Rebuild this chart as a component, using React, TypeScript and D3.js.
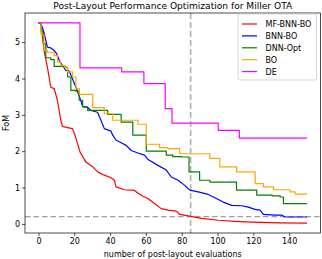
import React, { useEffect, useRef } from 'react';
import * as d3 from 'd3';

// best-so-far FoM, [evaluation, FoM]
const mfBnnBo: [number, number][] = [
  [0, 5.53], [1.5, 5.5], [3.1, 4.77], [5, 4.31], [6.9, 3.76], [8.8, 3.72], [10.6, 3.4], [12.5, 2.85],
  [13.4, 2.68], [16.2, 2.65], [19, 2.62], [20.4, 2.44], [23.2, 1.98], [26.5, 1.7], [30.3, 1.57],
  [33.1, 1.43], [36.8, 1.34], [40.6, 1.27], [42.4, 1.2], [43.4, 1.02], [48, 0.94], [53.6, 0.92],
  [55.5, 0.85], [58.3, 0.76], [61.1, 0.7], [64.8, 0.56], [68.6, 0.42], [72.3, 0.38], [77, 0.35],
  [78.9, 0.26], [83.6, 0.22], [91, 0.15], [100.4, 0.1], [109.8, 0.07], [119, 0.05], [135, 0.03], [150, 0.02],
];
const bnnBo: [number, number][] = [
  [0, 5.53], [1.5, 5.5], [3.1, 5.27], [5, 4.86], [6.9, 4.84], [8.8, 4.77], [10.3, 4.67], [11.6, 4.5],
  [15.3, 4.22], [17.2, 4.2], [19, 3.99], [20.9, 3.76], [23.3, 3.44], [24.7, 3.23], [27.5, 3.2],
  [29.3, 3.12], [33, 3.07], [34.9, 2.85], [36.8, 2.62], [40.5, 2.55], [41.5, 2.44], [43.4, 2.3],
  [46.2, 2.23], [49, 2.16], [51.8, 2.02], [55.5, 1.95], [59.2, 1.89], [61, 1.78], [66.7, 1.61],
  [71.4, 1.48], [74.2, 1.29], [78, 1.2], [81.7, 1.06], [84.5, 0.93], [89.2, 0.88], [94.8, 0.81],
  [98.5, 0.72], [103.2, 0.6], [107.9, 0.51], [113.5, 0.5], [117.2, 0.46], [121, 0.4], [123.8, 0.38],
  [125.6, 0.26], [132, 0.24], [136, 0.24], [137.7, 0.19], [150, 0.19],
];
// step series: value holds from x onward
const dnnOpt: [number, number][] = [
  [0, 5.53], [1.5, 5.3], [2.8, 4.95], [4.1, 4.57], [6.9, 4.52], [8.8, 4.33], [15.3, 4.3], [16.3, 4.04],
  [18.1, 3.67], [20.9, 3.65], [22.8, 3.4], [24.7, 3.22], [27.5, 3.12], [38.7, 3.01], [46.2, 2.8],
  [52.7, 2.44], [60.2, 2.0], [71.4, 1.89], [75, 1.85], [80, 1.84], [84.1, 1.43], [90, 1.2],
  [95.7, 1.15], [110.6, 0.93], [121.9, 0.79], [130.5, 0.77], [135, 0.74], [136.8, 0.56], [150, 0.56],
];
const bo: [number, number][] = [
  [0, 5.53], [1.5, 5.2], [3.1, 4.77], [5, 4.72], [8.8, 4.63], [10.6, 4.45], [12.5, 4.36], [14.4, 4.31],
  [16.3, 4.18], [19, 4.04], [20.9, 3.72], [22.8, 3.56], [30.3, 3.2], [36.8, 3.03], [41.5, 2.85],
  [55.5, 2.74], [60.2, 2.19], [67.6, 2.1], [72.3, 2.07], [78.9, 1.93], [95.7, 1.8], [101.3, 1.57],
  [110.7, 1.43], [121, 1.11], [125.6, 1.02], [131.2, 0.94], [140.5, 0.88], [143.3, 0.82], [150, 0.82],
];
const de: [number, number][] = [
  [0, 5.53], [23.2, 4.29], [46.5, 4.18], [58.9, 3.86], [70.8, 3.17], [74.6, 2.77], [100.4, 2.57],
  [112.2, 2.36], [150, 2.36],
];

const seriesNames = ['MF-BNN-BO', 'BNN-BO', 'DNN-Opt', 'BO', 'DE'];
const seriesColors = ['#ff0000', '#0000ff', '#008000', '#ffa500', '#ff00ff'];
const seriesData = [mfBnnBo, bnnBo, dnnOpt, bo, de];
const stepped = [false, false, true, true, true];

const xTicks = [0, 20, 40, 60, 80, 100, 120, 140];
const yTicks = [0, 1, 2, 3, 4, 5];
const targetFoM = 0.2;
const budgetLine = 85;

const App = () => {
  const ref = useRef<SVGSVGElement>(null);

  useEffect(() => {
    const width = 322;
    const height = 259;
    const m = { left: 25, right: 320.5, top: 13, bottom: 233 };
    const font = 'DejaVu Sans, sans-serif';

    const svg = d3.select(ref.current).attr('width', width).attr('height', height);
    svg.selectAll('*').remove();

    const x = d3.scaleLinear().domain([-7.5, 157.5]).range([m.left, m.right]);
    const y = d3.scaleLinear().domain([-0.25, 5.8]).range([m.bottom, m.top]);

    svg.append('rect').attr('width', width).attr('height', height).attr('fill', 'white');

    // reference lines
    svg
      .append('line')
      .attr('x1', m.left)
      .attr('x2', m.right)
      .attr('y1', y(targetFoM))
      .attr('y2', y(targetFoM))
      .attr('stroke', '#a0a0a0')
      .attr('stroke-width', 1.2)
      .attr('stroke-dasharray', '5.5,3');
    svg
      .append('line')
      .attr('x1', x(budgetLine))
      .attr('x2', x(budgetLine))
      .attr('y1', m.top)
      .attr('y2', m.bottom)
      .attr('stroke', '#b0b0b0')
      .attr('stroke-width', 1.6)
      .attr('stroke-dasharray', '6,3');

    // series
    seriesData.forEach((d, i) => {
      const line = d3
        .line<[number, number]>()
        .x(p => x(p[0]))
        .y(p => y(p[1]))
        .curve(stepped[i] ? d3.curveStepAfter : d3.curveLinear);
      svg
        .append('path')
        .attr('d', line(d))
        .attr('fill', 'none')
        .attr('stroke', seriesColors[i])
        .attr('stroke-width', 1.2)
        .attr('stroke-linejoin', 'round');
    });

    // axes
    const xAxis = svg
      .append('g')
      .attr('transform', `translate(0,${m.bottom})`)
      .call(d3.axisBottom(x).tickValues(xTicks).tickFormat(d3.format('d')).tickSize(3).tickPadding(2));
    const yAxis = svg
      .append('g')
      .attr('transform', `translate(${m.left},0)`)
      .call(d3.axisLeft(y).tickValues(yTicks).tickFormat(d3.format('d')).tickSize(3).tickPadding(2));
    [xAxis, yAxis].forEach(g => {
      g.select('.domain').remove();
      g.selectAll('line').attr('stroke', '#000').attr('stroke-width', 0.7);
      g.selectAll('text').attr('font-family', font).attr('font-size', 8).attr('fill', '#000');
    });

    svg
      .append('rect')
      .attr('x', m.left)
      .attr('y', m.top)
      .attr('width', m.right - m.left)
      .attr('height', m.bottom - m.top)
      .attr('fill', 'none')
      .attr('stroke', '#000')
      .attr('stroke-width', 0.7);

    // labels
    svg
      .append('text')
      .attr('x', (m.left + m.right) / 2)
      .attr('y', 9)
      .attr('text-anchor', 'middle')
      .attr('font-family', font)
      .attr('font-size', 9.1)
      .text('Post-Layout Performance Optimization for Miller OTA');
    svg
      .append('text')
      .attr('x', (m.left + m.right) / 2)
      .attr('y', 257)
      .attr('text-anchor', 'middle')
      .attr('font-family', font)
      .attr('font-size', 8)
      .text('number of post-layout evaluations');
    svg
      .append('text')
      .attr('transform', `translate(9,${(m.top + m.bottom) / 2}) rotate(-90)`)
      .attr('text-anchor', 'middle')
      .attr('font-family', font)
      .attr('font-size', 8)
      .text('FoM');

    // legend
    const lg = svg.append('g').attr('transform', 'translate(238,14)');
    lg.append('rect')
      .attr('width', 78.5)
      .attr('height', 66)
      .attr('rx', 2)
      .attr('fill', 'white')
      .attr('fill-opacity', 0.8)
      .attr('stroke', '#cccccc')
      .attr('stroke-width', 0.8);
    seriesNames.forEach((name, i) => {
      const ry = 10 + i * 11.9;
      lg.append('line')
        .attr('x1', 4)
        .attr('x2', 19)
        .attr('y1', ry)
        .attr('y2', ry)
        .attr('stroke', seriesColors[i])
        .attr('stroke-width', 1.2);
      lg.append('text')
        .attr('x', 27.5)
        .attr('y', ry + 3)
        .attr('font-family', font)
        .attr('font-size', 8)
        .text(name);
    });
  }, []);

  return (
    <div style={{ position: 'absolute', left: 0, top: 0 }}>
      <svg ref={ref} style={{ display: 'block' }}></svg>
    </div>
  );
};

export default App;
